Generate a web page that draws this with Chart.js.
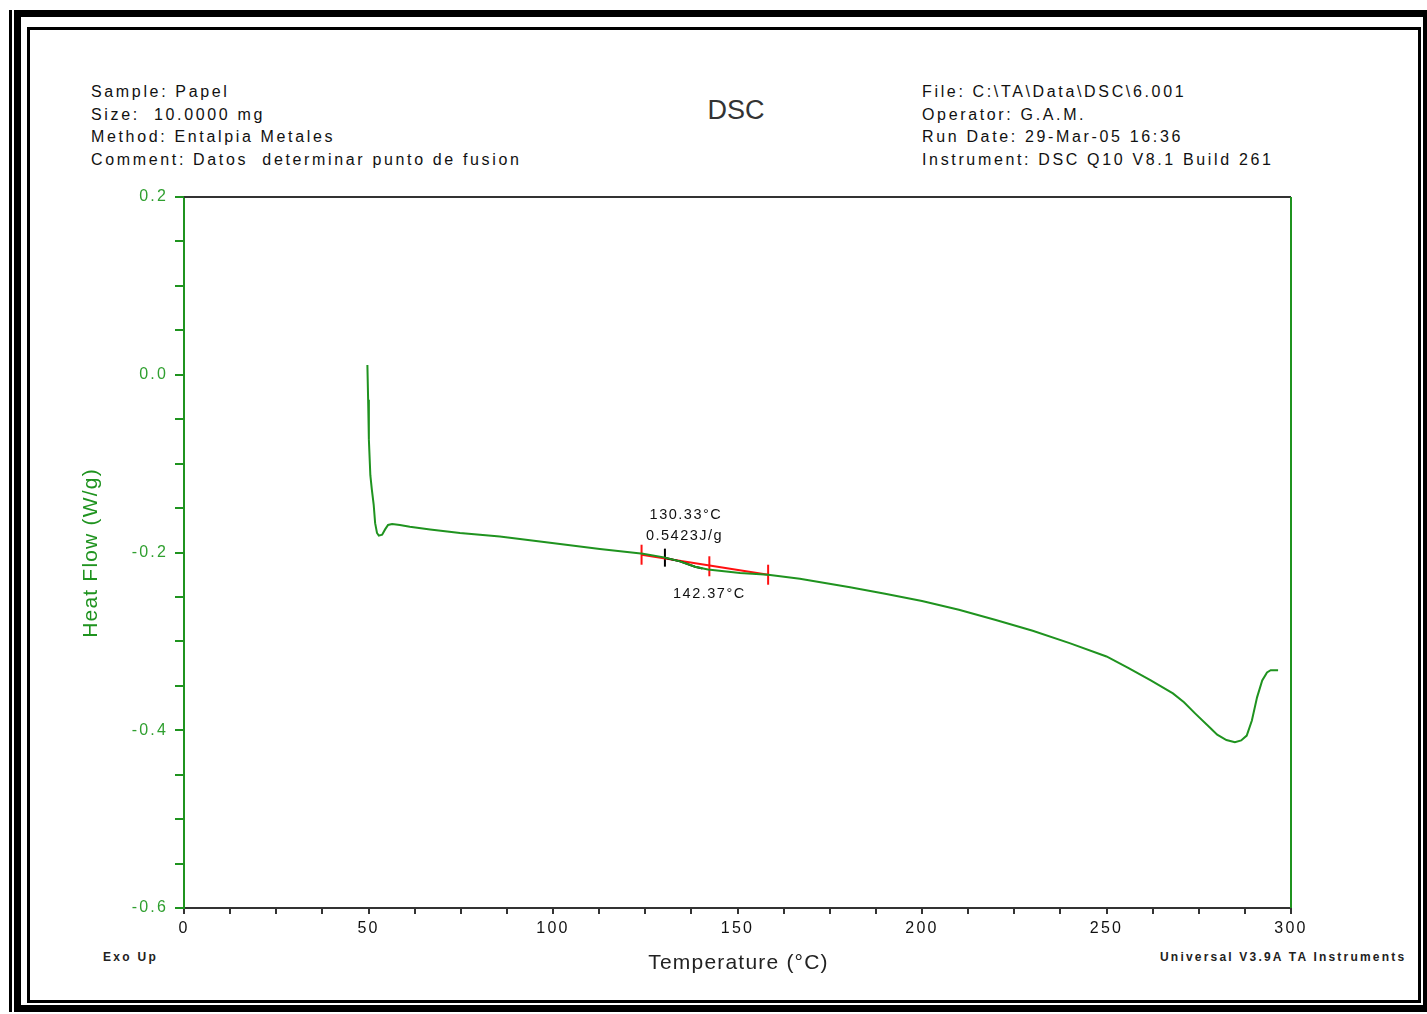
<!DOCTYPE html>
<html>
<head>
<meta charset="utf-8">
<title>DSC</title>
<script src="https://cdn.jsdelivr.net/npm/chart.js@4/dist/chart.umd.min.js"></script>
<style>
  html, body { margin: 0; padding: 0; background: #fff; overflow: hidden; }
  #page { position: relative; width: 1427px; height: 1014px; overflow: hidden; font-family: "Liberation Sans", Arial, sans-serif; }
  #dsc { position: absolute; left: 0; top: 0; }
  .frame { position: absolute; box-sizing: border-box; border: 0 solid #000; }
  .info { position: absolute; font-size: 16px; line-height: 22.5px; letter-spacing: 2.65px; color: #111; white-space: pre; }
  .title { position: absolute; left: 636px; width: 200px; top: 95px; text-align: center; font-size: 27px; color: #333; }
  .foot { position: absolute; font-weight: bold; font-size: 12px; color: #222; white-space: pre; }
</style>
</head>
<body>
<div id="page">
  <div class="frame" style="left:14px;top:10px;width:1416px;height:1002px;border-width:7px;"></div>
  <div class="frame" style="left:9px;top:10px;width:3px;height:1002px;background:#000;"></div>
  <div class="frame" style="left:27px;top:27px;width:1394px;height:976px;border-width:3px;"></div>

  <div class="info" style="left:91px;top:81px;">Sample: Papel
Size:  10.0000 mg
Method: Entalpia Metales
Comment: Datos  determinar punto de fusion</div>
  <div class="title">DSC</div>
  <div class="info" style="left:922px;top:81px;">File: C:\TA\Data\DSC\6.001
Operator: G.A.M.
Run Date: 29-Mar-05 16:36
Instrument: DSC Q10 V8.1 Build 261</div>

  <div class="foot" style="left:103px;top:950px;letter-spacing:2.3px;">Exo Up</div>
  <div class="foot" style="left:1160px;top:950px;letter-spacing:2.2px;">Universal V3.9A TA Instruments</div>

  <canvas id="dsc" width="1427" height="1014"></canvas>
</div>

<script>
// heating scan, temperature in °C and heat flow in W/g
const temperature = [
  49.7, 49.9, 50.1, 50.5, 50.9, 51.4, 51.8, 52.3, 52.8, 53.7, 54.5, 55.3, 56.4, 58.5,
  61.2, 66.7, 74.8, 85.6, 99.2, 112.7, 124.4, 130.1, 134.4, 138.5, 142.0, 150.7, 158.3,
  166.9, 180.5, 190.0, 200.0, 210.0, 220.0, 230.0, 240.0, 250.0, 256.0, 262.0, 268.0, 271.0,
  274.0, 278.0, 280.0, 282.5, 284.8, 286.5, 288.0, 289.4, 290.8, 292.2, 293.5, 294.5, 296.5
];
const heatFlow = [
  0.011, -0.028, -0.073, -0.113, -0.129, -0.146, -0.167, -0.178, -0.181, -0.180, -0.174, -0.169, -0.168, -0.169,
  -0.171, -0.174, -0.178, -0.182, -0.189, -0.196, -0.2015, -0.2055, -0.210, -0.216, -0.219, -0.223, -0.225,
  -0.2295, -0.2390, -0.2465, -0.2545, -0.2645, -0.2760, -0.2880, -0.3020, -0.3170, -0.3300, -0.3440, -0.3585, -0.3685,
  -0.3810, -0.3970, -0.4050, -0.4110, -0.4135, -0.4115, -0.4060, -0.3890, -0.3630, -0.3440, -0.3350, -0.3325, -0.3325
];

// integration baseline and its limit marks
const baselineT = [124.0, 158.3];
const baselineHF = [-0.2025, -0.2250];
const limitT = [124.0, 142.37, 158.3];
const limitHF = [-0.2025, -0.2155, -0.2250];

// onset tangent part of the curve
const onsetT = [130.33, 134.4, 138.5, 140.5];
const onsetHF = [-0.2058, -0.2100, -0.2160, -0.2180];

const onsetTemp = 130.33;
const peakTemp = 142.37;
const enthalpy = 0.5423;

const xTicks = { min: 0, max: 300, minor: 12.5, major: 50 };
const yTicks = { min: -0.6, max: 0.2, minor: 0.05, major: 0.2 };

const GREEN = '#1f931f';
const LABEL_GREEN = '#2f9f2f';
const FONT = '"Liberation Sans", Arial, sans-serif';

function pts(xs, ys) {
  return xs.map((x, i) => ({ x: x, y: ys[i] }));
}

const frameAndText = {
  id: 'frameAndText',
  beforeDraw(chart) {
    // the tick labels are spaced out
    chart.ctx.letterSpacing = '2.2px';
  },
  afterDraw(chart) {
    const { ctx, chartArea: a, scales } = chart;
    ctx.save();
    // top and right edges of the plot box
    ctx.lineWidth = 2;
    ctx.strokeStyle = '#333';
    ctx.beginPath();
    ctx.moveTo(a.left, a.top);
    ctx.lineTo(a.right, a.top);
    ctx.stroke();
    ctx.strokeStyle = GREEN;
    ctx.beginPath();
    ctx.moveTo(a.right, a.top);
    ctx.lineTo(a.right, a.bottom);
    ctx.stroke();

    // axis titles
    ctx.font = '21px ' + FONT;
    ctx.letterSpacing = '1.2px';
    ctx.textAlign = 'center';
    ctx.textBaseline = 'middle';
    ctx.fillStyle = '#222';
    ctx.fillText('Temperature (°C)', (a.left + a.right) / 2 + 1, 963);
    ctx.save();
    ctx.translate(91, 553);
    ctx.rotate(-Math.PI / 2);
    ctx.fillStyle = GREEN;
    ctx.fillText('Heat Flow (W/g)', 0, 0);
    ctx.restore();

    // peak annotations
    const x = scales.x, y = scales.y;
    const ref = y.getPixelForValue(-0.2);
    ctx.font = '14.5px ' + FONT;
    ctx.letterSpacing = '1.5px';
    ctx.fillStyle = '#111';
    ctx.textAlign = 'center';
    ctx.fillText(onsetTemp.toFixed(2) + '°C', x.getPixelForValue(onsetTemp) + 21, ref - 38);
    ctx.textAlign = 'left';
    ctx.fillText(enthalpy.toFixed(4) + 'J/g', x.getPixelForValue(onsetTemp) - 19, ref - 17);
    ctx.textAlign = 'center';
    ctx.fillText(peakTemp.toFixed(2) + '°C', x.getPixelForValue(peakTemp), ref + 41);
    ctx.restore();
  }
};

new Chart(document.getElementById('dsc'), {
  type: 'scatter',
  data: {
    datasets: [
      {
        data: pts(temperature, heatFlow),
        showLine: true,
        borderColor: GREEN,
        borderWidth: 2,
        pointRadius: 0,
        tension: 0
      },
      {
        data: pts(onsetT, onsetHF),
        showLine: true,
        borderColor: '#000',
        borderWidth: 2,
        pointRadius: 0
      },
      {
        data: pts(baselineT, baselineHF),
        showLine: true,
        borderColor: '#ff1010',
        borderWidth: 2,
        pointRadius: 0
      },
      {
        data: pts(limitT, limitHF),
        showLine: false,
        pointStyle: 'line',
        rotation: 90,
        pointRadius: 10,
        borderColor: '#ff1010',
        borderWidth: 2
      },
      {
        data: [{ x: onsetTemp, y: onsetHF[0] }],
        showLine: false,
        pointStyle: 'line',
        rotation: 90,
        pointRadius: 9,
        borderColor: '#000',
        borderWidth: 2
      }
    ]
  },
  options: {
    responsive: false,
    animation: false,
    devicePixelRatio: 1,
    layout: { padding: { left: 0, top: 197, right: 136, bottom: 0 } },
    plugins: {
      legend: { display: false },
      tooltip: { enabled: false }
    },
    scales: {
      x: {
        type: 'linear',
        min: xTicks.min,
        max: xTicks.max,
        afterFit: s => { s.height = 106; },
        border: { color: '#333', width: 2 },
        grid: { drawOnChartArea: false, drawTicks: true, tickLength: 6, color: '#333', lineWidth: 2 },
        ticks: {
          stepSize: xTicks.minor,
          maxTicksLimit: 100,
          autoSkip: false,
          maxRotation: 0,
          padding: 5,
          color: '#111',
          font: { family: FONT, size: 16 },
          callback: v => (v % xTicks.major === 0 ? String(v) : '')
        }
      },
      y: {
        type: 'linear',
        min: yTicks.min,
        max: yTicks.max,
        afterFit: s => { s.width = 184; },
        border: { color: GREEN, width: 2 },
        grid: { drawOnChartArea: false, drawTicks: true, tickLength: 9, color: GREEN, lineWidth: 2 },
        ticks: {
          stepSize: yTicks.minor,
          maxTicksLimit: 100,
          autoSkip: false,
          padding: 7,
          color: LABEL_GREEN,
          font: { family: FONT, size: 16 },
          callback: v => {
            const k = v / yTicks.major;
            return Math.abs(k - Math.round(k)) < 1e-6 ? v.toFixed(1) : '';
          }
        }
      }
    }
  },
  plugins: [frameAndText]
});
</script>
</body>
</html>
